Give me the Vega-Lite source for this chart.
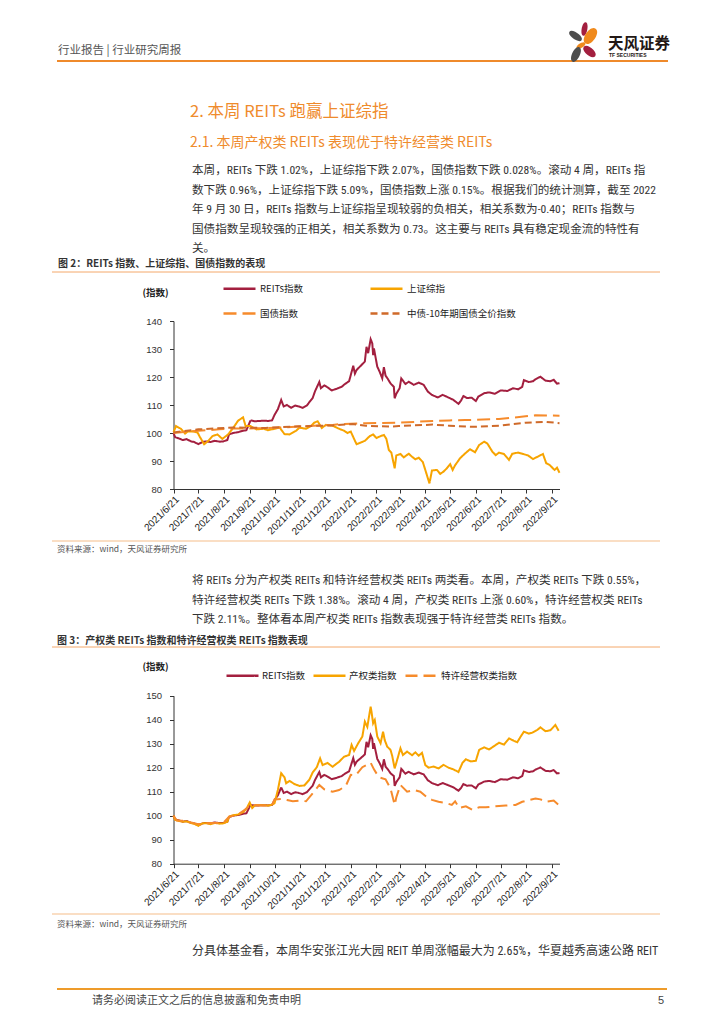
{
"$schema": "https://vega.github.io/schema/vega-lite/v6.json",
"width": 724, "height": 1024,
"autosize": {"type": "none"},
"padding": 0,
"background": "#ffffff",
"config": {"view": {"stroke": null}, "font": "Noto Sans CJK SC"},
"datasets": {
"c1": [
{"d":"2021-06-21","s":"REITs指数","v":100.0},{"d":"2021-06-23","s":"REITs指数","v":98.5},{"d":"2021-06-28","s":"REITs指数","v":98.0},{"d":"2021-07-02","s":"REITs指数","v":97.5},{"d":"2021-07-07","s":"REITs指数","v":97.8},{"d":"2021-07-12","s":"REITs指数","v":97.0},{"d":"2021-07-16","s":"REITs指数","v":96.8},{"d":"2021-07-21","s":"REITs指数","v":96.0},{"d":"2021-07-26","s":"REITs指数","v":96.8},{"d":"2021-07-30","s":"REITs指数","v":97.0},{"d":"2021-08-05","s":"REITs指数","v":96.8},{"d":"2021-08-10","s":"REITs指数","v":97.2},{"d":"2021-08-16","s":"REITs指数","v":96.9},{"d":"2021-08-20","s":"REITs指数","v":97.0},{"d":"2021-08-25","s":"REITs指数","v":97.5},{"d":"2021-08-27","s":"REITs指数","v":99.5},{"d":"2021-09-01","s":"REITs指数","v":100.0},{"d":"2021-09-07","s":"REITs指数","v":100.3},{"d":"2021-09-13","s":"REITs指数","v":100.8},{"d":"2021-09-17","s":"REITs指数","v":101.0},{"d":"2021-09-22","s":"REITs指数","v":104.5},{"d":"2021-09-27","s":"REITs指数","v":104.2},{"d":"2021-10-08","s":"REITs指数","v":104.4},{"d":"2021-10-13","s":"REITs指数","v":104.3},{"d":"2021-10-18","s":"REITs指数","v":104.5},{"d":"2021-10-21","s":"REITs指数","v":106.5},{"d":"2021-10-25","s":"REITs指数","v":108.5},{"d":"2021-10-29","s":"REITs指数","v":111.8},{"d":"2021-11-01","s":"REITs指数","v":109.5},{"d":"2021-11-05","s":"REITs指数","v":110.0},{"d":"2021-11-10","s":"REITs指数","v":109.0},{"d":"2021-11-15","s":"REITs指数","v":109.8},{"d":"2021-11-19","s":"REITs指数","v":109.5},{"d":"2021-11-24","s":"REITs指数","v":109.0},{"d":"2021-11-29","s":"REITs指数","v":109.8},{"d":"2021-12-02","s":"REITs指数","v":111.0},{"d":"2021-12-06","s":"REITs指数","v":112.5},{"d":"2021-12-09","s":"REITs指数","v":115.0},{"d":"2021-12-14","s":"REITs指数","v":118.2},{"d":"2021-12-16","s":"REITs指数","v":116.0},{"d":"2021-12-20","s":"REITs指数","v":117.0},{"d":"2021-12-24","s":"REITs指数","v":116.3},{"d":"2021-12-29","s":"REITs指数","v":115.2},{"d":"2022-01-04","s":"REITs指数","v":115.8},{"d":"2022-01-10","s":"REITs指数","v":116.5},{"d":"2022-01-14","s":"REITs指数","v":117.5},{"d":"2022-01-19","s":"REITs指数","v":118.5},{"d":"2022-01-24","s":"REITs指数","v":124.0},{"d":"2022-01-26","s":"REITs指数","v":121.2},{"d":"2022-01-28","s":"REITs指数","v":122.5},{"d":"2022-02-07","s":"REITs指数","v":125.5},{"d":"2022-02-09","s":"REITs指数","v":130.8},{"d":"2022-02-11","s":"REITs指数","v":128.5},{"d":"2022-02-14","s":"REITs指数","v":133.5},{"d":"2022-02-16","s":"REITs指数","v":132.0},{"d":"2022-02-17","s":"REITs指数","v":127.8},{"d":"2022-02-18","s":"REITs指数","v":130.2},{"d":"2022-02-22","s":"REITs指数","v":123.7},{"d":"2022-02-25","s":"REITs指数","v":121.8},{"d":"2022-02-28","s":"REITs指数","v":119.5},{"d":"2022-03-02","s":"REITs指数","v":123.5},{"d":"2022-03-04","s":"REITs指数","v":120.5},{"d":"2022-03-07","s":"REITs指数","v":119.2},{"d":"2022-03-10","s":"REITs指数","v":117.7},{"d":"2022-03-14","s":"REITs指数","v":116.5},{"d":"2022-03-15","s":"REITs指数","v":112.4},{"d":"2022-03-17","s":"REITs指数","v":114.0},{"d":"2022-03-21","s":"REITs指数","v":116.0},{"d":"2022-03-23","s":"REITs指数","v":119.5},{"d":"2022-03-28","s":"REITs指数","v":117.5},{"d":"2022-04-01","s":"REITs指数","v":118.3},{"d":"2022-04-07","s":"REITs指数","v":117.2},{"d":"2022-04-13","s":"REITs指数","v":118.0},{"d":"2022-04-19","s":"REITs指数","v":117.2},{"d":"2022-04-24","s":"REITs指数","v":114.8},{"d":"2022-04-29","s":"REITs指数","v":113.6},{"d":"2022-05-06","s":"REITs指数","v":112.7},{"d":"2022-05-12","s":"REITs指数","v":113.6},{"d":"2022-05-18","s":"REITs指数","v":112.8},{"d":"2022-05-25","s":"REITs指数","v":111.8},{"d":"2022-05-31","s":"REITs指数","v":110.4},{"d":"2022-06-03","s":"REITs指数","v":111.5},{"d":"2022-06-06","s":"REITs指数","v":113.2},{"d":"2022-06-10","s":"REITs指数","v":112.5},{"d":"2022-06-16","s":"REITs指数","v":112.6},{"d":"2022-06-21","s":"REITs指数","v":111.4},{"d":"2022-06-24","s":"REITs指数","v":113.0},{"d":"2022-07-01","s":"REITs指数","v":114.2},{"d":"2022-07-07","s":"REITs指数","v":114.5},{"d":"2022-07-14","s":"REITs指数","v":114.0},{"d":"2022-07-21","s":"REITs指数","v":115.2},{"d":"2022-07-29","s":"REITs指数","v":115.0},{"d":"2022-08-05","s":"REITs指数","v":116.0},{"d":"2022-08-11","s":"REITs指数","v":115.6},{"d":"2022-08-16","s":"REITs指数","v":116.5},{"d":"2022-08-18","s":"REITs指数","v":118.9},{"d":"2022-08-24","s":"REITs指数","v":118.2},{"d":"2022-08-29","s":"REITs指数","v":118.5},{"d":"2022-09-01","s":"REITs指数","v":119.2},{"d":"2022-09-07","s":"REITs指数","v":120.1},{"d":"2022-09-13","s":"REITs指数","v":118.7},{"d":"2022-09-19","s":"REITs指数","v":118.5},{"d":"2022-09-23","s":"REITs指数","v":119.0},{"d":"2022-09-27","s":"REITs指数","v":117.6},{"d":"2022-09-30","s":"REITs指数","v":117.8},
{"d":"2021-06-21","s":"上证综指","v":100.2},{"d":"2021-06-24","s":"上证综指","v":102.5},{"d":"2021-06-30","s":"上证综指","v":101.5},{"d":"2021-07-05","s":"上证综指","v":99.8},{"d":"2021-07-08","s":"上证综指","v":100.5},{"d":"2021-07-14","s":"上证综指","v":100.6},{"d":"2021-07-20","s":"上证综指","v":100.2},{"d":"2021-07-23","s":"上证综指","v":98.5},{"d":"2021-07-28","s":"上证综指","v":96.0},{"d":"2021-08-02","s":"上证综指","v":97.2},{"d":"2021-08-07","s":"上证综指","v":98.9},{"d":"2021-08-13","s":"上证综指","v":99.5},{"d":"2021-08-19","s":"上证综指","v":97.9},{"d":"2021-08-26","s":"上证综指","v":99.5},{"d":"2021-09-01","s":"上证综指","v":101.8},{"d":"2021-09-07","s":"上证综指","v":104.4},{"d":"2021-09-13","s":"上证综指","v":105.6},{"d":"2021-09-16","s":"上证综指","v":102.5},{"d":"2021-09-22","s":"上证综指","v":102.5},{"d":"2021-09-29","s":"上证综指","v":101.3},{"d":"2021-10-08","s":"上证综指","v":101.5},{"d":"2021-10-13","s":"上证综指","v":101.0},{"d":"2021-10-21","s":"上证综指","v":101.5},{"d":"2021-10-27","s":"上证综指","v":102.0},{"d":"2021-11-02","s":"上证综指","v":99.6},{"d":"2021-11-08","s":"上证综指","v":99.5},{"d":"2021-11-16","s":"上证综指","v":100.8},{"d":"2021-11-20","s":"上证综指","v":101.9},{"d":"2021-11-28","s":"上证综指","v":101.5},{"d":"2021-12-04","s":"上证综指","v":102.5},{"d":"2021-12-08","s":"上证综指","v":103.7},{"d":"2021-12-12","s":"上证综指","v":104.2},{"d":"2021-12-17","s":"上证综指","v":101.8},{"d":"2021-12-22","s":"上证综指","v":102.9},{"d":"2021-12-30","s":"上证综指","v":102.6},{"d":"2022-01-07","s":"上证综指","v":101.5},{"d":"2022-01-13","s":"上证综指","v":100.8},{"d":"2022-01-17","s":"上证综指","v":100.0},{"d":"2022-01-21","s":"上证综指","v":100.5},{"d":"2022-01-25","s":"上证综指","v":97.9},{"d":"2022-01-28","s":"上证综指","v":96.0},{"d":"2022-02-07","s":"上证综指","v":97.2},{"d":"2022-02-13","s":"上证综指","v":98.9},{"d":"2022-02-17","s":"上证综指","v":99.5},{"d":"2022-02-21","s":"上证综指","v":98.2},{"d":"2022-02-26","s":"上证综指","v":98.9},{"d":"2022-03-02","s":"上证综指","v":99.3},{"d":"2022-03-05","s":"上证综指","v":97.9},{"d":"2022-03-08","s":"上证综指","v":93.9},{"d":"2022-03-11","s":"上证综指","v":93.0},{"d":"2022-03-15","s":"上证综指","v":87.4},{"d":"2022-03-17","s":"上证综指","v":92.0},{"d":"2022-03-22","s":"上证综指","v":92.5},{"d":"2022-03-26","s":"上证综指","v":91.3},{"d":"2022-04-01","s":"上证综指","v":92.6},{"d":"2022-04-05","s":"上证综指","v":91.5},{"d":"2022-04-09","s":"上证综指","v":90.6},{"d":"2022-04-13","s":"上证综指","v":91.2},{"d":"2022-04-18","s":"上证综指","v":89.6},{"d":"2022-04-21","s":"上证综指","v":86.8},{"d":"2022-04-26","s":"上证综指","v":82.0},{"d":"2022-04-29","s":"上证综指","v":86.6},{"d":"2022-05-05","s":"上证综指","v":86.8},{"d":"2022-05-09","s":"上证综指","v":85.4},{"d":"2022-05-13","s":"上证综指","v":86.2},{"d":"2022-05-17","s":"上证综指","v":87.4},{"d":"2022-05-21","s":"上证综指","v":88.9},{"d":"2022-05-24","s":"上证综指","v":86.8},{"d":"2022-05-27","s":"上证综指","v":88.5},{"d":"2022-06-02","s":"上证综指","v":91.0},{"d":"2022-06-08","s":"上证综指","v":92.7},{"d":"2022-06-14","s":"上证综指","v":94.2},{"d":"2022-06-20","s":"上证综指","v":93.1},{"d":"2022-06-25","s":"上证综指","v":95.7},{"d":"2022-07-01","s":"上证综指","v":96.9},{"d":"2022-07-05","s":"上证综指","v":96.2},{"d":"2022-07-11","s":"上证综指","v":93.3},{"d":"2022-07-15","s":"上证综指","v":92.1},{"d":"2022-07-19","s":"上证综指","v":93.0},{"d":"2022-07-25","s":"上证综指","v":92.5},{"d":"2022-07-31","s":"上证综指","v":90.4},{"d":"2022-08-04","s":"上证综指","v":92.6},{"d":"2022-08-11","s":"上证综指","v":93.0},{"d":"2022-08-17","s":"上证综指","v":92.5},{"d":"2022-08-23","s":"上证综指","v":92.0},{"d":"2022-08-29","s":"上证综指","v":90.7},{"d":"2022-09-04","s":"上证综指","v":91.6},{"d":"2022-09-10","s":"上证综指","v":92.5},{"d":"2022-09-14","s":"上证综指","v":89.2},{"d":"2022-09-18","s":"上证综指","v":88.6},{"d":"2022-09-24","s":"上证综指","v":86.8},{"d":"2022-09-27","s":"上证综指","v":87.6},{"d":"2022-09-30","s":"上证综指","v":85.8},
{"d":"2021-06-21","s":"国债指数","v":100.0},{"d":"2021-07-21","s":"国债指数","v":100.8},{"d":"2021-08-15","s":"国债指数","v":101.3},{"d":"2021-09-01","s":"国债指数","v":101.6},{"d":"2021-10-10","s":"国债指数","v":101.7},{"d":"2021-11-20","s":"国债指数","v":102.3},{"d":"2021-12-01","s":"国债指数","v":102.5},{"d":"2021-12-30","s":"国债指数","v":102.9},{"d":"2022-01-10","s":"国债指数","v":103.2},{"d":"2022-02-08","s":"国债指数","v":103.5},{"d":"2022-03-20","s":"国债指数","v":103.7},{"d":"2022-04-30","s":"国债指数","v":104.3},{"d":"2022-05-20","s":"国债指数","v":104.5},{"d":"2022-06-08","s":"国债指数","v":104.6},{"d":"2022-06-30","s":"国债指数","v":104.8},{"d":"2022-07-19","s":"国债指数","v":105.0},{"d":"2022-08-05","s":"国债指数","v":105.5},{"d":"2022-08-20","s":"国债指数","v":106.0},{"d":"2022-09-01","s":"国债指数","v":106.3},{"d":"2022-09-30","s":"国债指数","v":106.2},
{"d":"2021-06-21","s":"中债-10年期国债全价指数","v":100.2},{"d":"2021-07-21","s":"中债-10年期国债全价指数","v":101.3},{"d":"2021-09-01","s":"中债-10年期国债全价指数","v":102.0},{"d":"2021-10-10","s":"中债-10年期国债全价指数","v":101.8},{"d":"2021-11-20","s":"中债-10年期国债全价指数","v":102.4},{"d":"2021-12-30","s":"中债-10年期国债全价指数","v":102.7},{"d":"2022-01-23","s":"中债-10年期国债全价指数","v":103.2},{"d":"2022-02-08","s":"中债-10年期国债全价指数","v":102.6},{"d":"2022-03-10","s":"中债-10年期国债全价指数","v":102.3},{"d":"2022-03-20","s":"中债-10年期国债全价指数","v":102.5},{"d":"2022-04-30","s":"中债-10年期国债全价指数","v":103.0},{"d":"2022-05-20","s":"中债-10年期国债全价指数","v":102.6},{"d":"2022-06-16","s":"中债-10年期国债全价指数","v":102.2},{"d":"2022-07-19","s":"中债-10年期国债全价指数","v":102.6},{"d":"2022-08-20","s":"中债-10年期国债全价指数","v":103.7},{"d":"2022-09-13","s":"中债-10年期国债全价指数","v":104.0},{"d":"2022-09-30","s":"中债-10年期国债全价指数","v":103.5}
],
"c2": [
{"d":"2021-06-21","s":"产权类指数","v":100.0},{"d":"2021-06-23","s":"产权类指数","v":98.2},{"d":"2021-06-28","s":"产权类指数","v":97.8},{"d":"2021-07-02","s":"产权类指数","v":97.5},{"d":"2021-07-07","s":"产权类指数","v":97.6},{"d":"2021-07-12","s":"产权类指数","v":97.0},{"d":"2021-07-16","s":"产权类指数","v":96.6},{"d":"2021-07-21","s":"产权类指数","v":95.8},{"d":"2021-07-26","s":"产权类指数","v":96.8},{"d":"2021-07-30","s":"产权类指数","v":96.9},{"d":"2021-08-05","s":"产权类指数","v":96.5},{"d":"2021-08-10","s":"产权类指数","v":97.0},{"d":"2021-08-16","s":"产权类指数","v":96.7},{"d":"2021-08-20","s":"产权类指数","v":96.8},{"d":"2021-08-25","s":"产权类指数","v":97.5},{"d":"2021-08-27","s":"产权类指数","v":99.6},{"d":"2021-09-01","s":"产权类指数","v":100.2},{"d":"2021-09-07","s":"产权类指数","v":100.5},{"d":"2021-09-13","s":"产权类指数","v":101.5},{"d":"2021-09-17","s":"产权类指数","v":102.8},{"d":"2021-09-21","s":"产权类指数","v":105.5},{"d":"2021-09-24","s":"产权类指数","v":103.2},{"d":"2021-09-27","s":"产权类指数","v":104.3},{"d":"2021-10-08","s":"产权类指数","v":104.4},{"d":"2021-10-13","s":"产权类指数","v":104.2},{"d":"2021-10-18","s":"产权类指数","v":104.6},{"d":"2021-10-21","s":"产权类指数","v":105.2},{"d":"2021-10-25","s":"产权类指数","v":110.7},{"d":"2021-10-29","s":"产权类指数","v":117.7},{"d":"2021-11-02","s":"产权类指数","v":116.0},{"d":"2021-11-04","s":"产权类指数","v":113.5},{"d":"2021-11-08","s":"产权类指数","v":114.5},{"d":"2021-11-14","s":"产权类指数","v":113.2},{"d":"2021-11-20","s":"产权类指数","v":112.4},{"d":"2021-11-26","s":"产权类指数","v":112.6},{"d":"2021-12-02","s":"产权类指数","v":115.0},{"d":"2021-12-06","s":"产权类指数","v":118.0},{"d":"2021-12-11","s":"产权类指数","v":120.2},{"d":"2021-12-15","s":"产权类指数","v":123.9},{"d":"2021-12-18","s":"产权类指数","v":121.1},{"d":"2021-12-24","s":"产权类指数","v":122.0},{"d":"2021-12-30","s":"产权类指数","v":120.4},{"d":"2022-01-07","s":"产权类指数","v":122.5},{"d":"2022-01-13","s":"产权类指数","v":124.6},{"d":"2022-01-19","s":"产权类指数","v":125.3},{"d":"2022-01-22","s":"产权类指数","v":129.5},{"d":"2022-01-25","s":"产权类指数","v":127.0},{"d":"2022-01-30","s":"产权类指数","v":130.2},{"d":"2022-02-04","s":"产权类指数","v":133.0},{"d":"2022-02-07","s":"产权类指数","v":139.2},{"d":"2022-02-10","s":"产权类指数","v":137.0},{"d":"2022-02-14","s":"产权类指数","v":145.4},{"d":"2022-02-15","s":"产权类指数","v":143.5},{"d":"2022-02-17","s":"产权类指数","v":138.5},{"d":"2022-02-19","s":"产权类指数","v":139.9},{"d":"2022-02-22","s":"产权类指数","v":133.0},{"d":"2022-02-26","s":"产权类指数","v":130.2},{"d":"2022-03-01","s":"产权类指数","v":135.0},{"d":"2022-03-03","s":"产权类指数","v":131.5},{"d":"2022-03-06","s":"产权类指数","v":128.8},{"d":"2022-03-10","s":"产权类指数","v":127.4},{"d":"2022-03-12","s":"产权类指数","v":125.0},{"d":"2022-03-15","s":"产权类指数","v":119.7},{"d":"2022-03-17","s":"产权类指数","v":122.0},{"d":"2022-03-22","s":"产权类指数","v":128.1},{"d":"2022-03-25","s":"产权类指数","v":125.3},{"d":"2022-03-30","s":"产权类指数","v":126.7},{"d":"2022-04-05","s":"产权类指数","v":125.2},{"d":"2022-04-09","s":"产权类指数","v":126.4},{"d":"2022-04-13","s":"产权类指数","v":125.0},{"d":"2022-04-17","s":"产权类指数","v":126.2},{"d":"2022-04-21","s":"产权类指数","v":121.1},{"d":"2022-04-25","s":"产权类指数","v":120.0},{"d":"2022-05-01","s":"产权类指数","v":120.5},{"d":"2022-05-07","s":"产权类指数","v":119.7},{"d":"2022-05-13","s":"产权类指数","v":121.2},{"d":"2022-05-19","s":"产权类指数","v":120.0},{"d":"2022-05-25","s":"产权类指数","v":119.3},{"d":"2022-05-31","s":"产权类指数","v":118.2},{"d":"2022-06-05","s":"产权类指数","v":122.1},{"d":"2022-06-09","s":"产权类指数","v":123.5},{"d":"2022-06-15","s":"产权类指数","v":122.6},{"d":"2022-06-21","s":"产权类指数","v":122.9},{"d":"2022-06-25","s":"产权类指数","v":127.4},{"d":"2022-07-01","s":"产权类指数","v":128.5},{"d":"2022-07-07","s":"产权类指数","v":127.6},{"d":"2022-07-13","s":"产权类指数","v":129.0},{"d":"2022-07-19","s":"产权类指数","v":130.4},{"d":"2022-07-25","s":"产权类指数","v":129.6},{"d":"2022-07-31","s":"产权类指数","v":132.2},{"d":"2022-08-06","s":"产权类指数","v":131.2},{"d":"2022-08-10","s":"产权类指数","v":130.6},{"d":"2022-08-14","s":"产权类指数","v":132.9},{"d":"2022-08-18","s":"产权类指数","v":135.0},{"d":"2022-08-24","s":"产权类指数","v":134.2},{"d":"2022-08-28","s":"产权类指数","v":134.6},{"d":"2022-09-03","s":"产权类指数","v":135.7},{"d":"2022-09-07","s":"产权类指数","v":136.8},{"d":"2022-09-13","s":"产权类指数","v":135.2},{"d":"2022-09-19","s":"产权类指数","v":135.6},{"d":"2022-09-25","s":"产权类指数","v":137.8},{"d":"2022-09-29","s":"产权类指数","v":135.4},
{"d":"2021-06-21","s":"特许经营权类指数","v":100.0},{"d":"2021-06-25","s":"特许经营权类指数","v":98.0},{"d":"2021-07-05","s":"特许经营权类指数","v":97.8},{"d":"2021-07-21","s":"特许经营权类指数","v":96.5},{"d":"2021-08-05","s":"特许经营权类指数","v":97.0},{"d":"2021-08-20","s":"特许经营权类指数","v":97.0},{"d":"2021-08-27","s":"特许经营权类指数","v":99.5},{"d":"2021-09-07","s":"特许经营权类指数","v":100.5},{"d":"2021-09-15","s":"特许经营权类指数","v":102.5},{"d":"2021-09-22","s":"特许经营权类指数","v":104.5},{"d":"2021-10-08","s":"特许经营权类指数","v":104.2},{"d":"2021-10-18","s":"特许经营权类指数","v":104.5},{"d":"2021-10-21","s":"特许经营权类指数","v":106.8},{"d":"2021-10-29","s":"特许经营权类指数","v":107.0},{"d":"2021-11-05","s":"特许经营权类指数","v":106.5},{"d":"2021-11-12","s":"特许经营权类指数","v":106.0},{"d":"2021-11-20","s":"特许经营权类指数","v":106.3},{"d":"2021-11-28","s":"特许经营权类指数","v":106.0},{"d":"2021-12-06","s":"特许经营权类指数","v":109.3},{"d":"2021-12-14","s":"特许经营权类指数","v":112.8},{"d":"2021-12-20","s":"特许经营权类指数","v":111.0},{"d":"2021-12-30","s":"特许经营权类指数","v":110.0},{"d":"2022-01-07","s":"特许经营权类指数","v":110.7},{"d":"2022-01-15","s":"特许经营权类指数","v":112.4},{"d":"2022-01-21","s":"特许经营权类指数","v":117.0},{"d":"2022-01-27","s":"特许经营权类指数","v":116.8},{"d":"2022-02-04","s":"特许经营权类指数","v":120.2},{"d":"2022-02-14","s":"特许经营权类指数","v":122.1},{"d":"2022-02-18","s":"特许经营权类指数","v":119.3},{"d":"2022-02-24","s":"特许经营权类指数","v":116.0},{"d":"2022-03-04","s":"特许经营权类指数","v":115.2},{"d":"2022-03-10","s":"特许经营权类指数","v":111.4},{"d":"2022-03-15","s":"特许经营权类指数","v":104.5},{"d":"2022-03-17","s":"特许经营权类指数","v":107.7},{"d":"2022-03-22","s":"特许经营权类指数","v":112.8},{"d":"2022-03-30","s":"特许经营权类指数","v":110.0},{"d":"2022-04-07","s":"特许经营权类指数","v":110.7},{"d":"2022-04-15","s":"特许经营权类指数","v":110.0},{"d":"2022-04-23","s":"特许经营权类指数","v":107.7},{"d":"2022-04-29","s":"特许经营权类指数","v":106.6},{"d":"2022-05-07","s":"特许经营权类指数","v":105.8},{"d":"2022-05-15","s":"特许经营权类指数","v":105.4},{"d":"2022-05-23","s":"特许经营权类指数","v":104.5},{"d":"2022-05-27","s":"特许经营权类指数","v":106.0},{"d":"2022-06-01","s":"特许经营权类指数","v":103.2},{"d":"2022-06-09","s":"特许经营权类指数","v":103.9},{"d":"2022-06-17","s":"特许经营权类指数","v":102.4},{"d":"2022-06-25","s":"特许经营权类指数","v":103.5},{"d":"2022-07-03","s":"特许经营权类指数","v":103.5},{"d":"2022-07-11","s":"特许经营权类指数","v":103.8},{"d":"2022-07-19","s":"特许经营权类指数","v":104.0},{"d":"2022-07-27","s":"特许经营权类指数","v":104.2},{"d":"2022-08-08","s":"特许经营权类指数","v":104.5},{"d":"2022-08-16","s":"特许经营权类指数","v":105.8},{"d":"2022-08-24","s":"特许经营权类指数","v":106.5},{"d":"2022-09-01","s":"特许经营权类指数","v":107.2},{"d":"2022-09-07","s":"特许经营权类指数","v":106.8},{"d":"2022-09-14","s":"特许经营权类指数","v":105.8},{"d":"2022-09-23","s":"特许经营权类指数","v":106.3},{"d":"2022-09-29","s":"特许经营权类指数","v":104.5}
]
},
"layer": [
{
 "data": {"name": "c1"},
 "mark": {"type": "line", "strokeWidth": 2},
 "encoding": {
  "x": {"field": "d", "type": "temporal",
   "scale": {"type": "utc", "domain": [{"year":2021,"month":6,"date":21,"utc":true},{"year":2022,"month":9,"date":30,"utc":true}], "range": [173.5, 559.5]},
   "axis": {"orient": "bottom", "offset": -535, "values": [{"year":2021,"month":6,"date":21,"utc":true},{"year":2021,"month":7,"date":21,"utc":true},{"year":2021,"month":8,"date":21,"utc":true},{"year":2021,"month":9,"date":21,"utc":true},{"year":2021,"month":10,"date":21,"utc":true},{"year":2021,"month":11,"date":21,"utc":true},{"year":2021,"month":12,"date":21,"utc":true},{"year":2022,"month":1,"date":21,"utc":true},{"year":2022,"month":2,"date":21,"utc":true},{"year":2022,"month":3,"date":21,"utc":true},{"year":2022,"month":4,"date":21,"utc":true},{"year":2022,"month":5,"date":21,"utc":true},{"year":2022,"month":6,"date":21,"utc":true},{"year":2022,"month":7,"date":21,"utc":true},{"year":2022,"month":8,"date":21,"utc":true},{"year":2022,"month":9,"date":21,"utc":true}],
    "labelExpr": "utcFormat(datum.value, '%Y/%-m/%-d')", "labelAngle": -45, "labelAlign": "right", "labelBaseline": "top", "labelPadding": 1, "labelFont": "Liberation Sans", "labelFontSize": 10, "labelColor": "#222222", "labelOverlap": false, "labelFlush": false, "tickSize": 4, "tickColor": "#333333", "domainColor": "#333333", "grid": false, "title": null}},
  "y": {"field": "v", "type": "quantitative",
   "scale": {"domain": [80, 140], "range": [489, 321], "zero": false, "nice": false},
   "axis": {"orient": "left", "offset": -173.5, "values": [80,90,100,110,120,130,140], "labelFont": "Liberation Sans", "labelFontSize": 9.5, "labelColor": "#333333", "labelPadding": 8, "tickSize": 4, "tickColor": "#333333", "domainColor": "#333333", "grid": false, "labelFlush": false,
    "title": "(指数)", "titleAngle": 0, "titleX": -18.5, "titleY": 292, "titleAlign": "center", "titleBaseline": "middle", "titleFontSize": 9.5, "titleFontWeight": "bold", "titleColor": "#222222", "titleFont": "Noto Sans CJK SC"}},
  "color": {"field": "s", "type": "nominal",
   "scale": {"domain": ["REITs指数","上证综指","国债指数","中债-10年期国债全价指数"], "range": ["#A31F3F","#F7A400","#F68B2C","#CF6A2A"]},
   "legend": {"orient": "none", "legendX": 222, "legendY": 271, "columns": 2, "direction": "horizontal", "title": null, "symbolType": "stroke", "symbolSize": 1024, "symbolStrokeWidth": 2.5, "labelFont": "Noto Sans CJK SC", "labelFontSize": 9.5, "labelColor": "#222222", "labelOffset": 3, "columnPadding": 62, "rowPadding": 2, "padding": 0, "labelLimit": 300}},
  "strokeDash": {"field": "s", "type": "nominal",
   "scale": {"domain": ["REITs指数","上证综指","国债指数","中债-10年期国债全价指数"], "range": [[1,0],[1,0],[13,6],[7,4]]},
   "legend": {"orient": "none", "legendX": 222, "legendY": 271, "columns": 2, "direction": "horizontal", "title": null, "symbolType": "stroke", "symbolSize": 1024, "symbolStrokeWidth": 2.5, "labelFont": "Noto Sans CJK SC", "labelFontSize": 9.5, "labelColor": "#222222", "labelOffset": 3, "columnPadding": 62, "rowPadding": 2, "padding": 0, "labelLimit": 300}}
 }
},
{
 "encoding": {
  "x": {"field": "d", "type": "temporal",
   "scale": {"type": "utc", "domain": [{"year":2021,"month":6,"date":21,"utc":true},{"year":2022,"month":9,"date":30,"utc":true}], "range": [173.5, 559.5]},
   "axis": {"orient": "bottom", "offset": -160.3, "values": [{"year":2021,"month":6,"date":21,"utc":true},{"year":2021,"month":7,"date":21,"utc":true},{"year":2021,"month":8,"date":21,"utc":true},{"year":2021,"month":9,"date":21,"utc":true},{"year":2021,"month":10,"date":21,"utc":true},{"year":2021,"month":11,"date":21,"utc":true},{"year":2021,"month":12,"date":21,"utc":true},{"year":2022,"month":1,"date":21,"utc":true},{"year":2022,"month":2,"date":21,"utc":true},{"year":2022,"month":3,"date":21,"utc":true},{"year":2022,"month":4,"date":21,"utc":true},{"year":2022,"month":5,"date":21,"utc":true},{"year":2022,"month":6,"date":21,"utc":true},{"year":2022,"month":7,"date":21,"utc":true},{"year":2022,"month":8,"date":21,"utc":true},{"year":2022,"month":9,"date":21,"utc":true}],
    "labelExpr": "utcFormat(datum.value, '%Y/%-m/%-d')", "labelAngle": -45, "labelAlign": "right", "labelBaseline": "top", "labelPadding": 1, "labelFont": "Liberation Sans", "labelFontSize": 10, "labelColor": "#222222", "labelOverlap": false, "labelFlush": false, "tickSize": 4, "tickColor": "#333333", "domainColor": "#333333", "grid": false, "title": null}},
  "y": {"field": "v", "type": "quantitative",
   "scale": {"domain": [80, 150], "range": [863.7, 695.7], "zero": false, "nice": false},
   "axis": {"orient": "left", "offset": -173.5, "values": [80,90,100,110,120,130,140,150], "labelFont": "Liberation Sans", "labelFontSize": 9.5, "labelColor": "#333333", "labelPadding": 8, "tickSize": 4, "tickColor": "#333333", "domainColor": "#333333", "grid": false, "labelFlush": false,
    "title": "(指数)", "titleAngle": 0, "titleX": -18.5, "titleY": 666, "titleAlign": "center", "titleBaseline": "middle", "titleFontSize": 9.5, "titleFontWeight": "bold", "titleColor": "#222222", "titleFont": "Noto Sans CJK SC"}},
  "color": {"field": "s", "type": "nominal",
   "scale": {"domain": ["REITs指数","产权类指数","特许经营权类指数"], "range": ["#A31F3F","#F7A400","#F68B2C"]},
   "legend": {"orient": "none", "legendX": 225, "legendY": 658, "columns": 3, "direction": "horizontal", "title": null, "symbolType": "stroke", "symbolSize": 1024, "symbolStrokeWidth": 2.5, "labelFont": "Noto Sans CJK SC", "labelFontSize": 9.5, "labelColor": "#222222", "labelOffset": 2, "columnPadding": 3, "padding": 0, "labelLimit": 300}},
  "strokeDash": {"field": "s", "type": "nominal",
   "scale": {"domain": ["REITs指数","产权类指数","特许经营权类指数"], "range": [[1,0],[1,0],[12,6]]},
   "legend": {"orient": "none", "legendX": 225, "legendY": 658, "columns": 3, "direction": "horizontal", "title": null, "symbolType": "stroke", "symbolSize": 1024, "symbolStrokeWidth": 2.5, "labelFont": "Noto Sans CJK SC", "labelFontSize": 9.5, "labelColor": "#222222", "labelOffset": 2, "columnPadding": 3, "padding": 0, "labelLimit": 300}}
 },
 "layer": [
  {"data": {"name": "c1"}, "transform": [{"filter": "datum.s === 'REITs指数'"}], "mark": {"type": "line", "strokeWidth": 2}},
  {"data": {"name": "c2"}, "mark": {"type": "line", "strokeWidth": 2}}
 ]
},
{"data": {"values": [{}]}, "mark": {"type": "rule", "color": "#EF8A2B", "strokeWidth": 2}, "encoding": {"x": {"value": 57}, "x2": {"value": 668}, "y": {"value": 61}}},
{"data": {"values": [{}]}, "mark": {"type": "rule", "color": "#F4A86A", "strokeWidth": 1}, "encoding": {"x": {"value": 52}, "x2": {"value": 660}, "y": {"value": 272}}},
{"data": {"values": [{}]}, "mark": {"type": "rule", "color": "#F9D3B0", "strokeWidth": 1.5}, "encoding": {"x": {"value": 52}, "x2": {"value": 660}, "y": {"value": 541}}},
{"data": {"values": [{}]}, "mark": {"type": "rule", "color": "#F4A86A", "strokeWidth": 1}, "encoding": {"x": {"value": 52}, "x2": {"value": 660}, "y": {"value": 647}}},
{"data": {"values": [{}]}, "mark": {"type": "rule", "color": "#F9D3B0", "strokeWidth": 1.5}, "encoding": {"x": {"value": 52}, "x2": {"value": 660}, "y": {"value": 914}}},
{"data": {"values": [{}]}, "mark": {"type": "rule", "color": "#EE9B2A", "strokeWidth": 2}, "encoding": {"x": {"value": 57}, "x2": {"value": 667}, "y": {"value": 989}}},
{"data": {"values": [{}]}, "mark": {"type": "point", "shape": "M0,-1C0.55,-1 0.55,1 0,1C-0.55,1 -0.55,-1 0,-1Z", "filled": true, "opacity": 1, "color": "#A31F3F", "size": 190, "angle": 10}, "encoding": {"x": {"value": 584.5}, "y": {"value": 29}}},
{"data": {"values": [{}]}, "mark": {"type": "point", "shape": "M0,-1C0.75,-1 0.75,1 0,1C-0.75,1 -0.75,-1 0,-1Z", "filled": true, "opacity": 1, "color": "#F08A1C", "size": 320, "angle": 35}, "encoding": {"x": {"value": 590.5}, "y": {"value": 36}}},
{"data": {"values": [{}]}, "mark": {"type": "point", "shape": "M0,-1C0.6,-1 0.6,1 0,1C-0.6,1 -0.6,-1 0,-1Z", "filled": true, "opacity": 1, "color": "#4D4D4D", "size": 220, "angle": -55}, "encoding": {"x": {"value": 575.5}, "y": {"value": 36}}},
{"data": {"values": [{}]}, "mark": {"type": "point", "shape": "M0,-1C0.6,-1 0.6,1 0,1C-0.6,1 -0.6,-1 0,-1Z", "filled": true, "opacity": 1, "color": "#F08A1C", "size": 100, "angle": 60}, "encoding": {"x": {"value": 581}, "y": {"value": 45.5}}},
{"data": {"values": [{}]}, "mark": {"type": "point", "shape": "M0,-1C0.7,-1 0.7,1 0,1C-0.7,1 -0.7,-1 0,-1Z", "filled": true, "opacity": 1, "color": "#A31F3F", "size": 220, "angle": -50}, "encoding": {"x": {"value": 589.5}, "y": {"value": 51.5}}},
{"data": {"values": [{}]}, "mark": {"type": "point", "shape": "M0,-1C0.65,-1 0.65,1 0,1C-0.65,1 -0.65,-1 0,-1Z", "filled": true, "opacity": 1, "color": "#4D4D4D", "size": 250, "angle": 25}, "encoding": {"x": {"value": 576}, "y": {"value": 54.5}}},
{"data": {"values": [{}]}, "mark": {"type": "text", "text": "天风证券", "align": "left", "baseline": "alphabetic", "font": "Noto Sans CJK SC", "fontSize": 15.5, "fontWeight": "bold", "color": "#231815"}, "encoding": {"x": {"value": 608}, "y": {"value": 48.9}}},
{"data": {"values": [{}]}, "mark": {"type": "text", "text": "TF SECURITIES", "align": "left", "baseline": "alphabetic", "font": "Liberation Sans", "fontSize": 5, "fontWeight": "bold", "color": "#231815"}, "encoding": {"x": {"value": 609}, "y": {"value": 57}}},
{"data": {"values": [{}]}, "mark": {"type": "text", "text": "行业报告 | 行业研究周报", "align": "left", "baseline": "alphabetic", "font": "Noto Sans CJK SC", "fontSize": 11.5, "color": "#555555"}, "encoding": {"x": {"value": 58}, "y": {"value": 54.4}}},
{"data": {"values": [{}]}, "mark": {"type": "text", "text": "2. 本周 REITs 跑赢上证综指", "align": "left", "baseline": "alphabetic", "font": "Noto Sans CJK SC", "fontSize": 16.5, "color": "#EF8B2C"}, "encoding": {"x": {"value": 190}, "y": {"value": 117.3}}},
{"data": {"values": [{}]}, "mark": {"type": "text", "text": "2.1. 本周产权类 REITs 表现优于特许经营类 REITs", "align": "left", "baseline": "alphabetic", "font": "Noto Sans CJK SC", "fontSize": 14, "color": "#EF8B2C"}, "encoding": {"x": {"value": 190}, "y": {"value": 147.3}}},
{"data": {"values": [{}]}, "mark": {"type": "text", "text": ["本周，REITs 下跌 1.02%，上证综指下跌 2.07%，国债指数下跌 0.028%。滚动 4 周，REITs 指", "数下跌 0.96%，上证综指下跌 5.09%，国债指数上涨 0.15%。根据我们的统计测算，截至 2022", "年 9 月 30 日，REITs 指数与上证综指呈现较弱的负相关，相关系数为-0.40；REITs 指数与", "国债指数呈现较强的正相关，相关系数为 0.73。这主要与 REITs 具有稳定现金流的特性有", "关。"], "lineHeight": 19.4, "align": "left", "baseline": "alphabetic", "font": "Roboto Condensed, Noto Sans CJK SC", "fontSize": 11.6, "color": "#333333"}, "encoding": {"x": {"value": 192}, "y": {"value": 174.4}}},
{"data": {"values": [{}]}, "mark": {"type": "text", "text": "图 2：REITs 指数、上证综指、国债指数的表现", "align": "left", "baseline": "alphabetic", "font": "Noto Sans CJK SC", "fontSize": 10, "fontWeight": "bold", "color": "#333333"}, "encoding": {"x": {"value": 58}, "y": {"value": 267.3}}},
{"data": {"values": [{}]}, "mark": {"type": "text", "text": "资料来源：wind，天风证券研究所", "align": "left", "baseline": "alphabetic", "font": "Noto Sans CJK SC", "fontSize": 8.5, "color": "#555555"}, "encoding": {"x": {"value": 57}, "y": {"value": 552.2}}},
{"data": {"values": [{}]}, "mark": {"type": "text", "text": ["将 REITs 分为产权类 REITs 和特许经营权类 REITs 两类看。本周，产权类 REITs 下跌 0.55%，", "特许经营权类 REITs 下跌 1.38%。滚动 4 周，产权类 REITs 上涨 0.60%，特许经营权类 REITs", "下跌 2.11%。整体看本周产权类 REITs 指数表现强于特许经营类 REITs 指数。"], "lineHeight": 19.5, "align": "left", "baseline": "alphabetic", "font": "Roboto Condensed, Noto Sans CJK SC", "fontSize": 11.6, "color": "#333333"}, "encoding": {"x": {"value": 192}, "y": {"value": 584.4}}},
{"data": {"values": [{}]}, "mark": {"type": "text", "text": "图 3：产权类 REITs 指数和特许经营权类 REITs 指数表现", "align": "left", "baseline": "alphabetic", "font": "Noto Sans CJK SC", "fontSize": 10, "fontWeight": "bold", "color": "#333333"}, "encoding": {"x": {"value": 57}, "y": {"value": 643.8}}},
{"data": {"values": [{}]}, "mark": {"type": "text", "text": "资料来源：wind，天风证券研究所", "align": "left", "baseline": "alphabetic", "font": "Noto Sans CJK SC", "fontSize": 8.5, "color": "#555555"}, "encoding": {"x": {"value": 57}, "y": {"value": 926.7}}},
{"data": {"values": [{}]}, "mark": {"type": "text", "text": "分具体基金看，本周华安张江光大园 REIT 单周涨幅最大为 2.65%，华夏越秀高速公路 REIT", "align": "left", "baseline": "alphabetic", "font": "Roboto Condensed, Noto Sans CJK SC", "fontSize": 12, "color": "#333333"}, "encoding": {"x": {"value": 192}, "y": {"value": 954.6}}},
{"data": {"values": [{}]}, "mark": {"type": "text", "text": "请务必阅读正文之后的信息披露和免责申明", "align": "left", "baseline": "alphabetic", "font": "Noto Sans CJK SC", "fontSize": 11, "color": "#444444"}, "encoding": {"x": {"value": 92}, "y": {"value": 1004.2}}},
{"data": {"values": [{}]}, "mark": {"type": "text", "text": "5", "align": "left", "baseline": "alphabetic", "font": "Liberation Sans", "fontSize": 11, "color": "#444444"}, "encoding": {"x": {"value": 658}, "y": {"value": 1004}}}
],
"resolve": {"scale": {"x": "independent", "y": "independent", "color": "independent", "strokeDash": "independent"}}
}
